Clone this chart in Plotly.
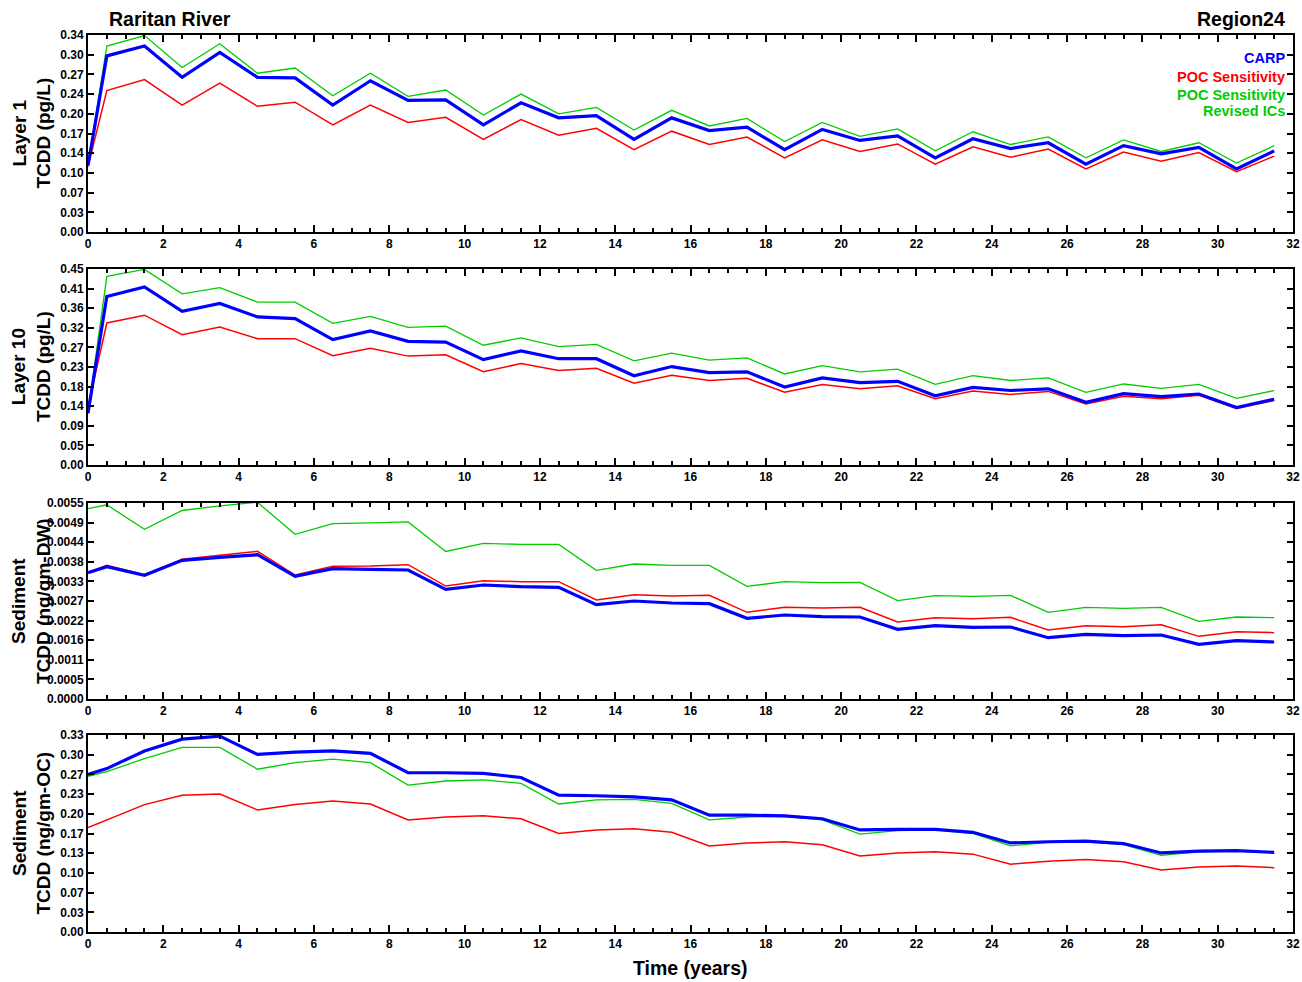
import plotly.graph_objects as go

# ---------------- data ----------------
time_years = [0, 0.5, 1.5, 2.5, 3.5, 4.5, 5.5, 6.5, 7.5, 8.5, 9.5, 10.5, 11.5, 12.5, 13.5, 14.5,
              15.5, 16.5, 17.5, 18.5, 19.5, 20.5, 21.5, 22.5, 23.5, 24.5, 25.5, 26.5, 27.5, 28.5,
              29.5, 30.5, 31.5]

# Panel 1: Layer 1 TCDD (pg/L)
l1_carp = [0.115, 0.304, 0.321, 0.267, 0.310, 0.267, 0.266, 0.219, 0.261, 0.227, 0.228, 0.185, 0.223,
           0.197, 0.201, 0.160, 0.197, 0.175, 0.181, 0.142, 0.177, 0.158, 0.166, 0.128, 0.161, 0.144,
           0.154, 0.117, 0.149, 0.135, 0.146, 0.109, 0.140]
l1_poc = [0.113, 0.244, 0.263, 0.219, 0.257, 0.217, 0.224, 0.185, 0.219, 0.189, 0.198, 0.160, 0.194,
          0.167, 0.179, 0.142, 0.174, 0.151, 0.164, 0.128, 0.159, 0.139, 0.152, 0.117, 0.147, 0.129,
          0.143, 0.109, 0.138, 0.122, 0.137, 0.104, 0.131]
l1_rev = [0.115, 0.321, 0.339, 0.284, 0.325, 0.274, 0.283, 0.235, 0.274, 0.234, 0.245, 0.202, 0.238,
          0.204, 0.215, 0.176, 0.210, 0.183, 0.196, 0.156, 0.189, 0.165, 0.178, 0.140, 0.173, 0.151,
          0.164, 0.128, 0.159, 0.139, 0.154, 0.119, 0.149]

# Panel 2: Layer 10 TCDD (pg/L)
l10_carp = [0.119, 0.387, 0.409, 0.353, 0.371, 0.340, 0.336, 0.288, 0.308, 0.284, 0.282, 0.242, 0.262,
            0.244, 0.244, 0.205, 0.226, 0.212, 0.214, 0.179, 0.200, 0.189, 0.192, 0.159, 0.178, 0.171,
            0.175, 0.144, 0.164, 0.157, 0.163, 0.132, 0.151]
l10_poc = [0.134, 0.326, 0.344, 0.299, 0.317, 0.290, 0.290, 0.251, 0.268, 0.250, 0.253, 0.214, 0.233,
           0.217, 0.222, 0.188, 0.206, 0.194, 0.199, 0.167, 0.185, 0.175, 0.182, 0.152, 0.170, 0.162,
           0.169, 0.140, 0.158, 0.152, 0.160, 0.130, 0.148]
l10_rev = [0.120, 0.433, 0.449, 0.393, 0.407, 0.374, 0.374, 0.325, 0.341, 0.316, 0.319, 0.275, 0.292,
           0.272, 0.277, 0.239, 0.257, 0.241, 0.246, 0.209, 0.228, 0.214, 0.220, 0.185, 0.205, 0.194,
           0.200, 0.167, 0.186, 0.176, 0.185, 0.153, 0.171]

# Panel 3: Sediment TCDD (ng/gm-DW)
dw_carp = [0.003545, 0.003713, 0.003470, 0.003891, 0.003975, 0.004050, 0.003442, 0.003657, 0.003639,
           0.003620, 0.003078, 0.003199, 0.003152, 0.003134, 0.002647, 0.002750, 0.002694, 0.002675,
           0.002264, 0.002357, 0.002310, 0.002301, 0.001955, 0.002058, 0.002011, 0.002020, 0.001721,
           0.001814, 0.001777, 0.001796, 0.001534, 0.001637, 0.001600]
dw_poc = [0.003545, 0.003751, 0.003488, 0.003919, 0.004032, 0.004144, 0.003479, 0.003723, 0.003732,
          0.003769, 0.003170, 0.003320, 0.003292, 0.003292, 0.002778, 0.002928, 0.002890, 0.002909,
          0.002432, 0.002572, 0.002553, 0.002572, 0.002161, 0.002282, 0.002254, 0.002291, 0.001936,
          0.002058, 0.002030, 0.002086, 0.001758, 0.001889, 0.001861]
dw_rev = [0.00534, 0.00545, 0.00476, 0.00529, 0.00542, 0.00552, 0.00462, 0.00492, 0.00494, 0.00497,
          0.00414, 0.004368, 0.004340, 0.004340, 0.003611, 0.003788, 0.003751, 0.003751, 0.003161,
          0.003292, 0.003264, 0.003273, 0.002759, 0.002900, 0.002881, 0.002909, 0.002432, 0.002572,
          0.002544, 0.002572, 0.002180, 0.002301, 0.002282]

# Panel 4: Sediment TCDD (ng/gm-OC)
oc_carp = [0.267, 0.277, 0.307, 0.327, 0.332, 0.301, 0.305, 0.307, 0.303, 0.270, 0.270, 0.269, 0.262,
           0.232, 0.231, 0.229, 0.224, 0.198, 0.198, 0.197, 0.192, 0.173, 0.174, 0.174, 0.169, 0.151,
           0.153, 0.154, 0.150, 0.134, 0.137, 0.138, 0.135]
oc_poc = [0.177, 0.190, 0.216, 0.232, 0.234, 0.207, 0.216, 0.222, 0.217, 0.190, 0.195, 0.197, 0.192,
          0.167, 0.173, 0.175, 0.169, 0.146, 0.151, 0.153, 0.148, 0.129, 0.134, 0.136, 0.132, 0.115,
          0.120, 0.123, 0.119, 0.105, 0.110, 0.112, 0.109]
oc_rev = [0.264, 0.272, 0.294, 0.313, 0.313, 0.276, 0.287, 0.293, 0.287, 0.249, 0.256, 0.258, 0.252,
          0.217, 0.224, 0.225, 0.218, 0.190, 0.195, 0.196, 0.190, 0.166, 0.172, 0.173, 0.167, 0.146,
          0.152, 0.153, 0.148, 0.130, 0.136, 0.137, 0.134]

panel_titles = ["Layer 1<br>TCDD (pg/L)", "Layer 10<br>TCDD (pg/L)",
                "Sediment<br>TCDD (ng/gm-DW)", "Sediment<br>TCDD (ng/gm-OC)"]
y_max = [0.34, 0.45, 0.0055, 0.334]
y_ticktext = [
    ["0.00", "0.03", "0.07", "0.10", "0.14", "0.17", "0.20", "0.24", "0.27", "0.30", "0.34"],
    ["0.00", "0.05", "0.09", "0.14", "0.18", "0.23", "0.27", "0.32", "0.36", "0.41", "0.45"],
    ["0.0000", "0.0005", "0.0011", "0.0016", "0.0022", "0.0027", "0.0033", "0.0038", "0.0044",
     "0.0049", "0.0055"],
    ["0.00", "0.03", "0.07", "0.10", "0.13", "0.17", "0.20", "0.23", "0.27", "0.30", "0.33"],
]
series_names = ["CARP", "POC Sensitivity", "POC Sensitivity Revised ICs"]
panels = [(l1_carp, l1_poc, l1_rev), (l10_carp, l10_poc, l10_rev),
          (dw_carp, dw_poc, dw_rev), (oc_carp, oc_poc, oc_rev)]

# ---------------- style ----------------
W, H = 1302, 982
L, R, T, B = 88, 9, 35, 50
BLUE, RED, GREEN = "rgb(0,0,255)", "rgb(255,0,0)", "rgb(0,204,0)"
FONT = "Liberation Sans, Arial, sans-serif"
panel_px = [(35, 232), (269, 465), (503, 699), (735, 932)]
ph = H - T - B


def ydom(top, bot):
    return [(H - B - bot) / ph, (H - B - top) / ph]


fig = go.Figure()
for i, (carp, poc, rev) in enumerate(panels):
    n = i + 1
    xa = "x" if n == 1 else f"x{n}"
    ya = "y" if n == 1 else f"y{n}"
    fig.add_trace(go.Scatter(x=time_years, y=rev, mode="lines", line=dict(color=GREEN, width=1.3),
                             name=series_names[2], showlegend=False, xaxis=xa, yaxis=ya))
    fig.add_trace(go.Scatter(x=time_years, y=poc, mode="lines", line=dict(color=RED, width=1.5),
                             name=series_names[1], showlegend=False, xaxis=xa, yaxis=ya))
    fig.add_trace(go.Scatter(x=time_years, y=carp, mode="lines", line=dict(color=BLUE, width=3.2),
                             name=series_names[0], showlegend=False, xaxis=xa, yaxis=ya))

    tickfont = dict(family=FONT, size=12, color="black", weight="bold")
    xkey = "xaxis" if n == 1 else f"xaxis{n}"
    ykey = "yaxis" if n == 1 else f"yaxis{n}"
    top, bot = panel_px[i]
    fig.update_layout({
        xkey: dict(domain=[0, 1], anchor=ya, range=[0, 32], dtick=2, tick0=0,
                   showline=True, linecolor="black", linewidth=2, mirror="allticks",
                   ticks="inside", ticklen=7, tickwidth=2, tickcolor="black",
                   minor=dict(dtick=0.5, ticks="inside", ticklen=4, tickwidth=1.5, tickcolor="black"),
                   showgrid=False, zeroline=False, tickfont=tickfont),
        ykey: dict(domain=ydom(top, bot), anchor=xa, range=[0, y_max[i]],
                   tickmode="array",
                   tickvals=[y_max[i] * k / 10 for k in range(11)], ticktext=y_ticktext[i],
                   showline=True, linecolor="black", linewidth=2, mirror="allticks",
                   ticks="inside", ticklen=6, tickwidth=1.5, tickcolor="black",
                   showgrid=False, zeroline=False, tickfont=tickfont),
    })
    fig.add_annotation(text="<b>" + panel_titles[i].replace("<br>", "</b><br><b>") + "</b>",
                       textangle=-90, xref="paper", yref="paper",
                       x=(31 - L) / (W - L - R), y=(H - B - (top + bot) / 2) / ph,
                       xanchor="center", yanchor="middle", showarrow=False,
                       font=dict(family=FONT, size=19, color="black"))

pw = W - L - R


def px_x(px):
    return (px - L) / pw


def px_y(py):
    return (H - B - py) / ph


fig.add_annotation(text="<b>Raritan River</b>", xref="paper", yref="paper", x=px_x(107), y=px_y(19),
                   xanchor="left", yanchor="middle", showarrow=False,
                   font=dict(family=FONT, size=19.5, color="black"))
fig.add_annotation(text="<b>Region24</b>", xref="paper", yref="paper", x=px_x(1287), y=px_y(19),
                   xanchor="right", yanchor="middle", showarrow=False,
                   font=dict(family=FONT, size=19.5, color="black"))
fig.add_annotation(text="<b>Time (years)</b>", xref="paper", yref="paper", x=px_x(690), y=px_y(968),
                   xanchor="center", yanchor="middle", showarrow=False,
                   font=dict(family=FONT, size=19.5, color="black"))

legend_items = [("CARP", BLUE, 58), ("POC Sensitivity", RED, 77),
                ("POC Sensitivity", GREEN, 95), ("Revised ICs", GREEN, 111)]
for txt, col, yy in legend_items:
    fig.add_annotation(text="<b>" + txt + "</b>", xref="paper", yref="paper", x=px_x(1287), y=px_y(yy),
                       xanchor="right", yanchor="middle", showarrow=False,
                       font=dict(family=FONT, size=14.5, color=col))

fig.update_layout(width=W, height=H, margin=dict(l=L, r=R, t=T, b=B, autoexpand=False),
                  paper_bgcolor="white", plot_bgcolor="white", showlegend=False)

fig.write_html("out.html")
